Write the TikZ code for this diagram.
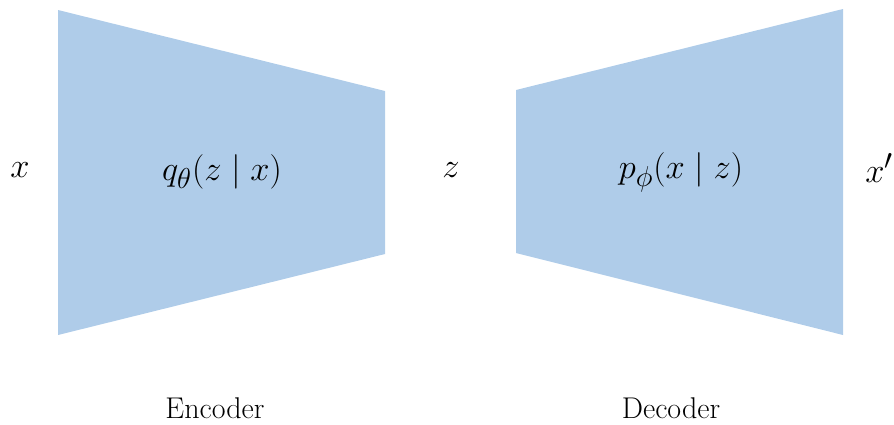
\documentclass[tikz,border=0pt]{standalone}
\usepackage{amsmath}
\usepackage{tikz}
\usetikzlibrary{positioning}
\definecolor{funnel}{HTML}{AFCCE9}

\begin{document}
\begin{tikzpicture}[x=0.5pt,y=-0.5pt,
  block/.style={fill=funnel,draw=none},
  lbl/.style={font=\fontsize{19}{22}\selectfont,inner sep=0pt},
  stage/.style={font=\fontsize{15}{18}\selectfont,inner sep=0pt}]
\useasboundingbox (0,0) rectangle (894,424);
% trapezoids
\fill[block] (58,10) -- (385,91) -- (385,254) -- (58,335) -- cycle;
\fill[block] (516,90) -- (843,9) -- (843,335) -- (516,253) -- cycle;
% labels
\node[lbl] (in) at (20,170) {$x$};
\node[lbl] (enc) at (222,172) {$q_\theta(z\mid x)$};
\node[lbl] (lat) at (451,170) {$z$};
\node[lbl] (dec) at (681,172) {$p_\phi(x\mid z)$};
\node[lbl,anchor=west] (out) at (865,168) {$x'$};
\node[stage] (enclbl) at (215,408) {Encoder};
\node[stage] (declbl) at (671,408) {Decoder};
\end{tikzpicture}
\end{document}
